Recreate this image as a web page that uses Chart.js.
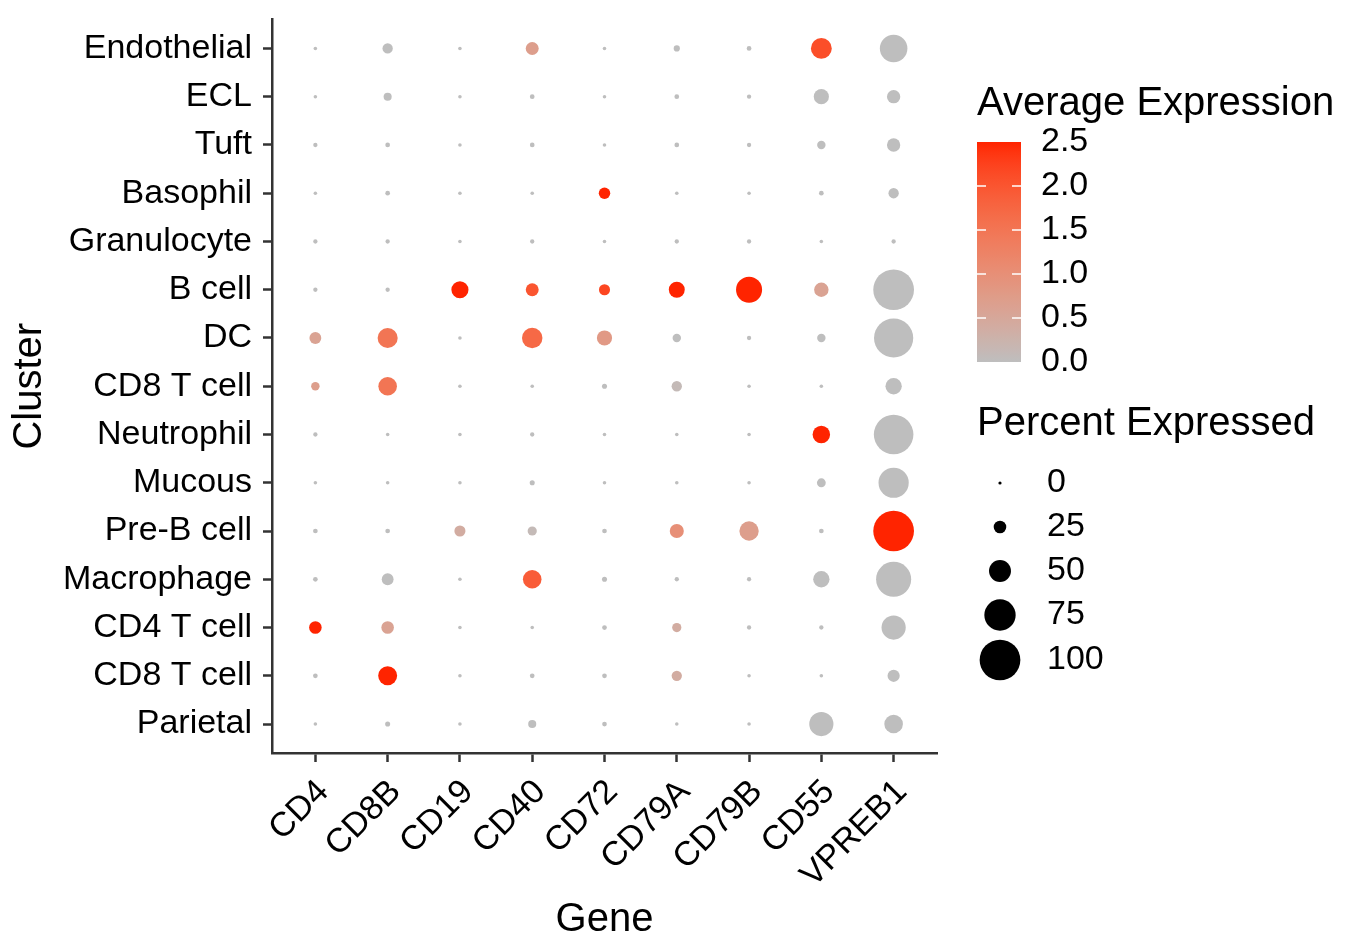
<!DOCTYPE html>
<html>
<head>
<meta charset="utf-8">
<script src="https://cdn.jsdelivr.net/npm/chart.js@4.4.1/dist/chart.umd.min.js"></script>
<style>
  html, body { margin: 0; padding: 0; background: #fff; }
</style>
</head>
<body>
<canvas id="grafico" width="1356" height="937"></canvas>
<script>
// Datos del dot plot
const genes = ['CD4', 'CD8B', 'CD19', 'CD40', 'CD72', 'CD79A', 'CD79B', 'CD55', 'VPREB1'];
const clusters = ['Endothelial', 'ECL', 'Tuft', 'Basophil', 'Granulocyte', 'B cell', 'DC', 'CD8 T cell',
    'Neutrophil', 'Mucous', 'Pre-B cell', 'Macrophage', 'CD4 T cell', 'CD8 T cell', 'Parietal'];

// Porcentaje de células que expresan el gen (una fila por cluster)
const pctExpressed = [
    [1, 19, 1, 26, 1, 8, 4, 47, 65],
    [1, 13, 1, 4, 1, 4, 3, 32, 27],
    [3, 4, 1, 4, 1, 4, 3, 14, 27],
    [1, 4, 1, 1, 22, 1, 1, 4, 19],
    [3, 3, 1, 3, 1, 3, 3, 1, 3],
    [3, 3, 37, 26, 21, 34, 61, 30, 100],
    [23, 45, 1, 46, 32, 14, 3, 14, 96],
    [14, 41, 1, 1, 5, 19, 1, 1, 35],
    [3, 1, 1, 3, 1, 1, 1, 38, 97],
    [1, 1, 1, 5, 1, 1, 1, 15, 72],
    [4, 4, 21, 16, 4, 29, 43, 4, 100],
    [4, 23, 1, 41, 5, 3, 3, 35, 85],
    [25, 25, 1, 1, 4, 16, 3, 3, 56],
    [4, 42, 1, 4, 4, 19, 1, 1, 24],
    [1, 5, 1, 13, 4, 1, 1, 56, 41],
];

// Expresión media escalada (una fila por cluster)
const avgExpression = [
    [0, 0, 0, 0.7, 0, 0, 0, 2.1, 0],
    [0, 0, 0, 0, 0, 0, 0, 0, 0],
    [0, 0, 0, 0, 0, 0, 0, 0, 0],
    [0, 0, 0, 0, 2.5, 0, 0, 0, 0],
    [0, 0, 0, 0, 0, 0, 0, 0, 0],
    [0, 0, 2.5, 2.0, 2.2, 2.5, 2.5, 0.6, 0],
    [0.6, 1.5, 0, 1.7, 0.8, 0, 0, 0, 0],
    [0.7, 1.5, 0, 0, 0, 0.1, 0, 0, 0],
    [0, 0, 0, 0, 0, 0, 0, 2.5, 0],
    [0, 0, 0, 0, 0, 0, 0, 0, 0],
    [0, 0, 0.4, 0.1, 0, 1.0, 0.7, 0, 2.5],
    [0, 0, 0, 1.9, 0, 0, 0, 0, 0],
    [2.5, 0.6, 0, 0, 0, 0.4, 0, 0, 0],
    [0, 2.5, 0, 0, 0, 0.4, 0, 0, 0],
    [0, 0, 0, 0, 0, 0, 0, 0, 0],
];

const sizeBreaks = [0, 25, 50, 75, 100];
const colourBreaks = [0, 0.5, 1, 1.5, 2, 2.5];
const maxExpr = 2.5;

const fuente = '"Liberation Sans", Arial, Helvetica, sans-serif';
const colorBajo = '#BEBEBE';
const colorAlto = '#FF2400';

// Radio del punto según el porcentaje (escala lineal como scale_radius)
function radio(pct) {
    return 1.6 + 0.1875 * pct;
}

// Interpolación de color en espacio Lab (como ggplot)
function hexARgb(hex) {
    const n = parseInt(hex.slice(1), 16);
    return [(n >> 16) & 255, (n >> 8) & 255, n & 255];
}
function rgbALab(rgb) {
    const lin = rgb.map(c => {
        c /= 255;
        return c <= 0.04045 ? c / 12.92 : Math.pow((c + 0.055) / 1.055, 2.4);
    });
    const X = (lin[0] * 0.4124 + lin[1] * 0.3576 + lin[2] * 0.1805) / 0.95047;
    const Y = (lin[0] * 0.2126 + lin[1] * 0.7152 + lin[2] * 0.0722);
    const Z = (lin[0] * 0.0193 + lin[1] * 0.1192 + lin[2] * 0.9505) / 1.08883;
    const f = t => t > 0.008856 ? Math.cbrt(t) : 7.787 * t + 16 / 116;
    return [116 * f(Y) - 16, 500 * (f(X) - f(Y)), 200 * (f(Y) - f(Z))];
}
function labARgb(lab) {
    const fy = (lab[0] + 16) / 116;
    const fx = fy + lab[1] / 500;
    const fz = fy - lab[2] / 200;
    const g = t => t > 0.206893 ? t * t * t : (t - 16 / 116) / 7.787;
    const X = g(fx) * 0.95047, Y = g(fy), Z = g(fz) * 1.08883;
    const lin = [
        X * 3.2406 + Y * -1.5372 + Z * -0.4986,
        X * -0.9689 + Y * 1.8758 + Z * 0.0415,
        X * 0.0557 + Y * -0.2040 + Z * 1.0570,
    ];
    return lin.map(c => {
        c = c <= 0.0031308 ? 12.92 * c : 1.055 * Math.pow(c, 1 / 2.4) - 0.055;
        return Math.round(Math.min(1, Math.max(0, c)) * 255);
    });
}
const labBajo = rgbALab(hexARgb(colorBajo));
const labAlto = rgbALab(hexARgb(colorAlto));
function colorExpr(v) {
    const t = Math.min(1, Math.max(0, v / maxExpr));
    const lab = labBajo.map((c, i) => c + (labAlto[i] - c) * t);
    const rgb = labARgb(lab);
    return `rgb(${rgb[0]}, ${rgb[1]}, ${rgb[2]})`;
}

// Puntos del gráfico
const puntos = [];
clusters.forEach((c, i) => {
    genes.forEach((g, j) => {
        puntos.push({ x: j, y: i, r: radio(pctExpressed[i][j]), v: avgExpression[i][j] });
    });
});

// Leyendas dibujadas a mano (barra de color y tamaños)
const leyenda = {
    id: 'leyenda',
    afterDraw(chart) {
        const ctx = chart.ctx;
        ctx.save();
        ctx.fillStyle = '#000';
        ctx.textBaseline = 'middle';
        ctx.textAlign = 'left';
        ctx.font = '40px ' + fuente;
        ctx.fillText('Average Expression', 977, 104);

        const x0 = 977, x1 = 1021, yTop = 142, yBot = 362;
        const grad = ctx.createLinearGradient(0, yBot, 0, yTop);
        for (let i = 0; i <= 20; i++) {
            grad.addColorStop(i / 20, colorExpr(maxExpr * i / 20));
        }
        ctx.fillStyle = grad;
        ctx.fillRect(x0, yTop, x1 - x0, yBot - yTop);

        ctx.font = '34px ' + fuente;
        colourBreaks.forEach(v => {
            const y = yBot - (v / maxExpr) * (yBot - yTop);
            if (v > 0 && v < maxExpr) {
                ctx.strokeStyle = '#fff';
                ctx.lineWidth = 1.5;
                ctx.beginPath();
                ctx.moveTo(x0, y); ctx.lineTo(x0 + 9, y);
                ctx.moveTo(x1 - 9, y); ctx.lineTo(x1, y);
                ctx.stroke();
            }
            ctx.fillStyle = '#000';
            ctx.fillText(v.toFixed(1), 1041, y);
        });

        ctx.font = '40px ' + fuente;
        ctx.fillText('Percent Expressed', 977, 424);
        ctx.font = '34px ' + fuente;
        const ys = [483, 527, 571, 615, 660];
        sizeBreaks.forEach((p, k) => {
            ctx.fillStyle = '#000';
            ctx.beginPath();
            ctx.arc(1000, ys[k], radio(p), 0, Math.PI * 2);
            ctx.fill();
            ctx.fillText(String(p), 1047, ys[k]);
        });
        ctx.restore();
    }
};

Chart.defaults.font.family = fuente;
Chart.defaults.color = '#000';

const graficoPuntos = new Chart(document.getElementById('grafico'), {
    type: 'bubble',
    data: {
        datasets: [{
            data: puntos,
            backgroundColor: ctx => colorExpr(ctx.raw ? ctx.raw.v : 0),
            borderWidth: 0,
        }]
    },
    options: {
        responsive: false,
        animation: false,
        events: [],
        devicePixelRatio: 1,
        layout: { autoPadding: false, padding: { top: 11, right: 419, left: 0, bottom: 0 } },
        plugins: { legend: { display: false }, tooltip: { enabled: false } },
        scales: {
            x: {
                type: 'linear',
                min: -0.6,
                max: 8.6,
                afterBuildTicks: s => { s.ticks = genes.map((g, i) => ({ value: i })); },
                afterFit: s => { s.height = 184; },
                ticks: {
                    callback: v => genes[v],
                    autoSkip: false,
                    minRotation: 45,
                    maxRotation: 45,
                    padding: 10,
                    labelOffset: 8,
                    color: '#000',
                    font: { size: 34 },
                },
                grid: { drawOnChartArea: false, drawTicks: true, tickLength: 9, tickColor: '#333', tickWidth: 2.5 },
                border: { display: true, color: '#333', width: 2.5 },
                title: { display: true, text: 'Gene', color: '#000', font: { size: 40 }, padding: { top: 0, bottom: -7 } },
            },
            y: {
                type: 'linear',
                reverse: true,
                min: -0.6,
                max: 14.6,
                afterBuildTicks: s => { s.ticks = clusters.map((c, i) => ({ value: i })); },
                afterFit: s => { s.width = 272; },
                ticks: {
                    callback: v => clusters[v],
                    autoSkip: false,
                    padding: 11,
                    color: '#000',
                    font: { size: 34, lineHeight: 0.5 },
                },
                grid: { drawOnChartArea: false, drawTicks: true, tickLength: 9, tickColor: '#333', tickWidth: 2.5 },
                border: { display: true, color: '#333', width: 2.5 },
                title: { display: true, text: 'Cluster', color: '#000', font: { size: 40 }, padding: { top: 6, bottom: 0 } },
            },
        },
    },
    plugins: [leyenda],
});
</script>
</body>
</html>
